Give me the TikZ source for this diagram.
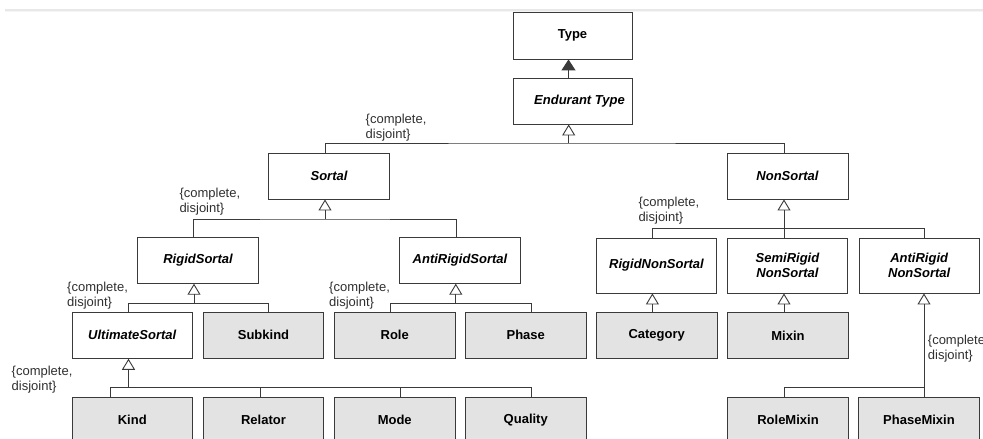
\documentclass[tikz,border=0pt]{standalone}
\usepackage{fontspec}
\setmainfont{Liberation Sans}
\usetikzlibrary{arrows.meta}
\definecolor{edge}{HTML}{3A3A3A}
\definecolor{boxgray}{HTML}{E3E3E3}
\definecolor{labeltext}{HTML}{303030}

\begin{document}
\begin{tikzpicture}[x=1pt,y=-1pt,
  cls/.style={draw=edge, line width=0.9pt, fill=white, rectangle, inner sep=0pt,
    minimum width=120.5pt, minimum height=46pt, align=center,
    font=\fontsize{13}{15}\selectfont\bfseries},
  abstract/.style={cls, font=\fontsize{13}{15}\selectfont\bfseries\itshape},
  concrete/.style={cls, fill=boxgray},
  bar/.style={draw=edge, line width=0.9pt},
  stem/.style={draw=edge, line width=1pt,
    -{Triangle[open, width=13pt, length=11pt, line width=0.9pt]}},
  gslabel/.style={inner sep=0pt, align=left, text=labeltext,
    font=\fontsize{13}{15}\selectfont},
]
% canvas
\fill[white] (0,0) rectangle (983,439);
\useasboundingbox (0,0) rectangle (983,439);
\draw[line width=1.5pt, draw=black!9] (5,10) -- (983,10);
\draw[line width=1pt, draw=black!4] (5,11.8) -- (983,11.8);

% classes
\node[cls, minimum width=119pt, minimum height=47pt] (type) at (572.5,35.5) {Type};
\node[abstract, minimum width=119pt] (endurant) at (572.5,101) {\hspace*{14pt}Endurant Type};
\node[abstract] (sortal) at (329,176) {Sortal};
\node[abstract, minimum width=121pt] (nonsortal) at (787.5,176) {NonSortal};
\node[abstract, minimum height=45.5pt] (rigidsortal) at (198,260.5) {RigidSortal};
\node[abstract, minimum height=45.5pt] (antirigidsortal) at (460,260.5) {AntiRigidSortal};
\node[abstract, minimum height=55pt] (rigidnonsortal) at (656.5,265.5) {RigidNonSortal};
\node[abstract, minimum height=55pt] (semirigid) at (787.5,265.5) {SemiRigid\\NonSortal};
\node[abstract, minimum height=55pt] (antirigidns) at (919.2,265.5) {AntiRigid\\NonSortal};
\node[abstract] (ultimate) at (132.25,335.3) {UltimateSortal};
\node[concrete] (subkind) at (263.5,335.3) {Subkind};
\node[concrete] (role) at (394.75,335.3) {Role};
\node[concrete] (phase) at (525.75,335.3) {Phase};
\node[concrete] (category) at (656.7,335.3) {Category};
\node[concrete] (mixin) at (788,335.3) {Mixin};
\node[concrete] (kind) at (132.25,420) {Kind};
\node[concrete] (relator) at (263.5,420) {Relator};
\node[concrete] (mode) at (394.75,420) {Mode};
\node[concrete] (quality) at (525.75,420) {Quality};
\node[concrete] (rolemixin) at (788,420) {RoleMixin};
\node[concrete] (phasemixin) at (919,420) {PhaseMixin};

% Endurant Type -> Type
\draw[bar, line width=1.1pt, -{Triangle[width=14pt, length=11pt]}]
  ([xshift=-4pt]endurant.north) -- ([xshift=-4pt]endurant.north |- type.south);

% Sortal / NonSortal
\coordinate (g1) at (568.7,143);
\draw[stem] (g1) -- (g1 |- endurant.south);
\draw[bar] ([xshift=-4pt]sortal.north) |- (g1) -| ([xshift=-3.5pt]nonsortal.north);
\node[gslabel, anchor=base west] (l1) at (365.5,138) {\{complete,\\disjoint\}};

% RigidSortal / AntiRigidSortal
\coordinate (g2) at (325,219);
\draw[stem] (g2) -- (g2 |- sortal.south);
\draw[bar] ([xshift=-5pt]rigidsortal.north) |- (g2) -| ([xshift=-4pt]antirigidsortal.north);
\node[gslabel, anchor=base west] (l2) at (179.3,212.5) {\{complete,\\disjoint\}};

% non-sortal kinds
\coordinate (g3) at (784,228.7);
\draw[stem] (g3) -- (g3 |- nonsortal.south);
\draw[bar] ([xshift=-3.8pt]rigidnonsortal.north) |- (g3) -| ([xshift=5.4pt]antirigidns.north);
\draw[bar] (g3) -- (g3 |- semirigid.north);
\node[gslabel, anchor=base west] (l3) at (638.3,221.5) {\{complete,\\disjoint\}};

% UltimateSortal / Subkind
\coordinate (g4) at (194,303.3);
\draw[stem] (g4) -- (g4 |- rigidsortal.south);
\draw[bar] ([xshift=-4.25pt]ultimate.north) |- (g4) -| ([xshift=5.2pt]subkind.north);
\node[gslabel, anchor=base west] (l4) at (67,306) {\{complete,\\disjoint\}};

% Role / Phase
\coordinate (g5) at (455.8,303.3);
\draw[stem] (g5) -- (g5 |- antirigidsortal.south);
\draw[bar] ([xshift=-4pt]role.north) |- (g5) -| ([xshift=5.25pt]phase.north);
\node[gslabel, anchor=base west] (l5) at (329,306) {\{complete,\\disjoint\}};

% Category, Mixin
\draw[stem] ([xshift=-4.3pt]category.north) -- ([xshift=-4.3pt]category.north |- rigidnonsortal.south);
\draw[stem] ([xshift=-4pt]mixin.north) -- ([xshift=-4pt]mixin.north |- semirigid.south);

% ultimate sortals
\coordinate (g8) at (128.5,387.7);
\draw[stem] (g8) -- (g8 |- ultimate.south);
\draw[bar] ([xshift=-22.25pt]kind.north) |- ([xshift=5.25pt]quality.north |- g8)
  -- ([xshift=5.25pt]quality.north);
\draw[bar] ([xshift=-3.5pt]relator.north) -- ([xshift=-3.5pt]relator.north |- g8);
\draw[bar] ([xshift=5.25pt]mode.north) -- ([xshift=5.25pt]mode.north |- g8);
\node[gslabel, anchor=base west] (l8) at (11.5,390) {\{complete,\\disjoint\}};

% RoleMixin / PhaseMixin
\coordinate (g9) at (924,387.7);
\draw[stem] ([xshift=5pt]phasemixin.north) -- ([xshift=5pt]phasemixin.north |- antirigidns.south);
\draw[bar] ([xshift=-4pt]rolemixin.north) |- (g9);
\node[gslabel, anchor=base west] (l9) at (927.7,359) {\{complete,\\disjoint\}};
\end{tikzpicture}
\end{document}
